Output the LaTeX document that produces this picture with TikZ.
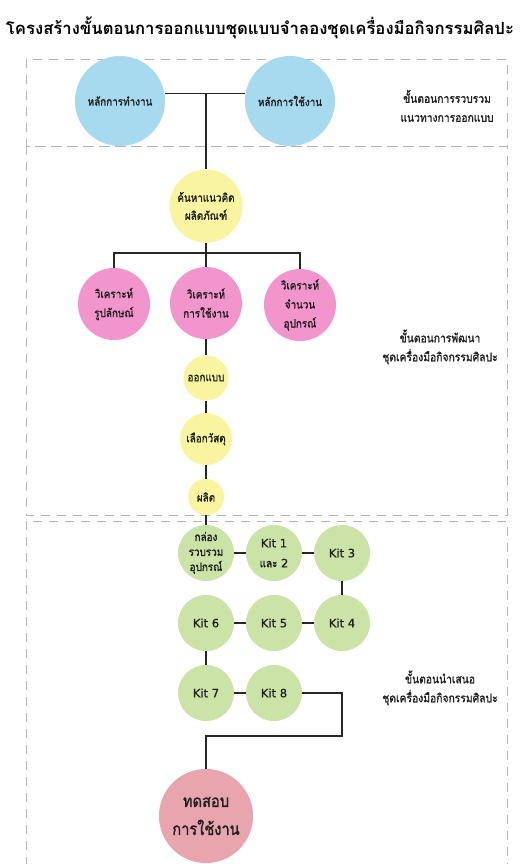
\documentclass[tikz,border=0pt]{standalone}
\usepackage{fontspec}
\newfontfamily\thaifont[Script=Thai]{Loma}
\newfontfamily\nodefont[Script=Thai, FakeStretch=0.86, FakeBold=1.2]{Loma}
\newfontfamily\kitfont[FakeBold=0.6]{DejaVu Sans}
\definecolor{cblue}{HTML}{A7D9EF}
\definecolor{cyellow}{HTML}{F9F49F}
\definecolor{cpink}{HTML}{F295CC}
\definecolor{cgreen}{HTML}{CBE3A7}
\definecolor{cred}{HTML}{E8A5AE}
\definecolor{cframe}{HTML}{B4B4B4}
\definecolor{ctext}{HTML}{1E1E1E}
\tikzset{
  bubble/.style={circle, inner sep=0pt, align=center, text=ctext,
    font=\nodefont\fontsize{11.5}{18}\selectfont},
  bluebub/.style={bubble, fill=cblue, minimum size=90pt},
  yellowbub/.style={bubble, fill=cyellow},
  pinkbub/.style={bubble, fill=cpink, minimum size=72pt,
    font=\nodefont\fontsize{11.5}{19}\selectfont},
  greenbub/.style={bubble, fill=cgreen, minimum size=56pt,
    font=\kitfont\fontsize{11.5}{20}\selectfont},
  redbub/.style={bubble, fill=cred, minimum size=94pt,
    font=\nodefont\fontsize{17}{28}\selectfont},
  link/.style={draw=black!85, line width=1.1pt},
  stagebox/.style={draw=cframe, line width=0.9pt, dash pattern=on 9pt off 7pt},
  stagelabel/.style={align=center, text=ctext,
    font=\nodefont\fontsize{12}{19}\selectfont},
}
\begin{document}
\begin{tikzpicture}[x=1pt,y=-1pt]
\useasboundingbox[fill=white] (0,0) rectangle (520,864);

% title
\node[text=black, inner sep=0pt] (title) at (260,28)
  {\resizebox{508pt}{!}{\thaifont\bfseries\fontsize{20}{24}\selectfont
   โครงสร้างขั้นตอนการออกแบบชุดแบบจำลองชุดเครื่องมือกิจกรรมศิลปะ}};

% stage frames
\draw[stagebox] (26,59) rectangle (507,146);
\draw[stagebox] (26,146) rectangle (507,515);
\draw[stagebox] (26,521) rectangle (507,880);

% stage 1: design guidelines
\node[bluebub] (p1) at (120,101) {หลักการทำงาน};
\node[bluebub] (p2) at (290,101) {หลักการใช้งาน};
\coordinate (j1) at (206,93);

% stage 2: development
\node[yellowbub, minimum size=73pt] (k) at (206,206) {ค้นหาแนวคิด\\ผลิตภัณฑ์};
\coordinate (j2) at (206,253);
\node[pinkbub] (a1) at (114,304) {วิเคราะห์\\รูปลักษณ์};
\node[pinkbub] (a2) at (206,303) {วิเคราะห์\\การใช้งาน};
\node[pinkbub] (a3) at (300,305) {วิเคราะห์\\จำนวน\\อุปกรณ์};
\node[yellowbub, minimum size=45pt] (d1) at (206,378) {ออกแบบ};
\node[yellowbub, minimum size=52pt] (d2) at (206,439) {เลือกวัสดุ};
\node[yellowbub, minimum size=36pt] (d3) at (206,497) {ผลิต};

% stage 3: presentation
\node[greenbub, font=\nodefont\fontsize{11.5}{15}\selectfont] (g0) at (206,553)
  {กล่อง\\รวบรวม\\อุปกรณ์};
\node[greenbub] (g1) at (274,553) {Kit 1\\{\nodefont และ} 2};
\node[greenbub] (g3) at (342,553) {Kit 3};
\node[greenbub] (g4) at (342,623) {Kit 4};
\node[greenbub] (g5) at (274,623) {Kit 5};
\node[greenbub] (g6) at (206,623) {Kit 6};
\node[greenbub] (g7) at (206,693) {Kit 7};
\node[greenbub] (g8) at (274,693) {Kit 8};
\coordinate (c1) at (342,693);
\coordinate (c2) at (342,736);
\coordinate (c3) at (206,736);
\node[redbub] (test) at (206,816) {ทดสอบ\\การใช้งาน};

% connectors
\draw[link] (p1.9) -- (p2.171);
\draw[link] (j1) -- (k.north);
\draw[link] (k.south) -- (j2) -- (a2.north);
\draw[link] (a1.north) |- (j2) -| (a3.north);
\draw[link] (a2.south) -- (d1.north);
\draw[link] (d1.south) -- (d2.north);
\draw[link] (d2.south) -- (d3.north);
\draw[link] (d3.south) -- (g0.north);
\draw[link] (g0) -- (g1);
\draw[link] (g1) -- (g3);
\draw[link] (g3) -- (g4);
\draw[link] (g4) -- (g5);
\draw[link] (g5) -- (g6);
\draw[link] (g6) -- (g7);
\draw[link] (g7) -- (g8);
\draw[link] (g8.east) -- (c1) -- (c2) -- (c3) -- (test.north);

% stage labels
\node[stagelabel] (s1) at (447,106) {ขั้นตอนการรวบรวม\\แนวทางการออกแบบ};
\node[stagelabel] (s2) at (440,347) {ขั้นตอนการพัฒนา\\ชุดเครื่องมือกิจกรรมศิลปะ};
\node[stagelabel] (s3) at (440,688) {ขั้นตอนนำเสนอ\\ชุดเครื่องมือกิจกรรมศิลปะ};
\end{tikzpicture}
\end{document}
